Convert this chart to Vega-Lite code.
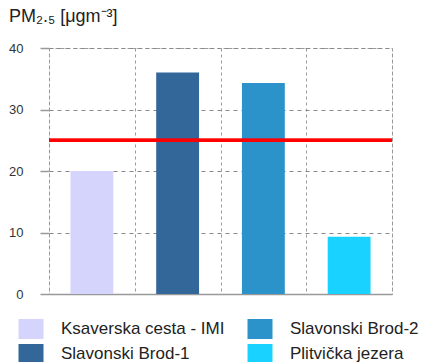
{
  "$schema": "https://vega.github.io/schema/vega-lite/v6.json",
  "width": 343,
  "height": 246,
  "autosize": "none",
  "padding": {"left": 49, "top": 48, "right": 30, "bottom": 68},
  "background": "white",
  "title": {
    "text": "PM₂.₅ [μgm⁻³]",
    "anchor": "start",
    "frame": "group",
    "dx": -40,
    "offset": 2,
    "baseline": "alphabetic",
    "font": "Liberation Sans",
    "fontSize": 18,
    "fontWeight": "normal",
    "color": "#222"
  },
  "config": {
    "view": {"stroke": "#999", "strokeDash": [3, 3]},
    "font": "Liberation Sans"
  },
  "data": {
    "values": [
      {"station": "Ksaverska cesta - IMI", "pm25": 20},
      {"station": "Slavonski Brod-1", "pm25": 36},
      {"station": "Slavonski Brod-2", "pm25": 34.3},
      {"station": "Plitvička jezera", "pm25": 9.3}
    ]
  },
  "layer": [
    {
      "mark": {"type": "bar", "width": {"band": 0.5}},
      "encoding": {
        "x": {
          "field": "station",
          "type": "nominal",
          "sort": ["Ksaverska cesta - IMI", "Slavonski Brod-1", "Slavonski Brod-2", "Plitvička jezera"],
          "scale": {"paddingInner": 0, "paddingOuter": 0},
          "axis": {
            "title": null,
            "labels": false,
            "ticks": false,
            "domain": true,
            "domainColor": "#999",
            "domainWidth": 1.5,
            "grid": true,
            "tickBand": "extent",
            "gridDash": [3, 3],
            "gridColor": "#999"
          }
        },
        "y": {
          "field": "pm25",
          "type": "quantitative",
          "scale": {"domain": [0, 40]},
          "axis": {
            "title": null,
            "values": [0, 10, 20, 30, 40],
            "domain": false,
            "grid": true,
            "gridDash": [4, 4],
            "gridColor": "#888",
            "tickColor": "#999",
            "tickSize": 9,
            "tickWidth": 1.5,
            "labelPadding": 17,
            "labelFontSize": 13,
            "labelColor": "#333"
          }
        },
        "color": {
          "field": "station",
          "type": "nominal",
          "scale": {
            "domain": ["Ksaverska cesta - IMI", "Slavonski Brod-1", "Slavonski Brod-2", "Plitvička jezera"],
            "range": ["#d4d4fc", "#336699", "#2b93c9", "#1ad2ff"]
          },
          "legend": {
            "title": null,
            "orient": "none",
            "legendX": -28,
            "legendY": 271,
            "columns": 2,
            "columnPadding": 22,
            "rowPadding": 5,
            "symbolType": "M-1.25,-1H1.25V1H-1.25Z",
            "symbolSize": 400,
            "symbolStrokeWidth": 0,
            "symbolOpacity": 1,
            "labelFontSize": 17,
            "labelColor": "#222",
            "labelOffset": 20,
            "labelLimit": 300
          }
        }
      }
    },
    {
      "mark": {"type": "rule", "color": "#ff0000", "strokeWidth": 3},
      "encoding": {"y": {"datum": 25}}
    }
  ]
}
